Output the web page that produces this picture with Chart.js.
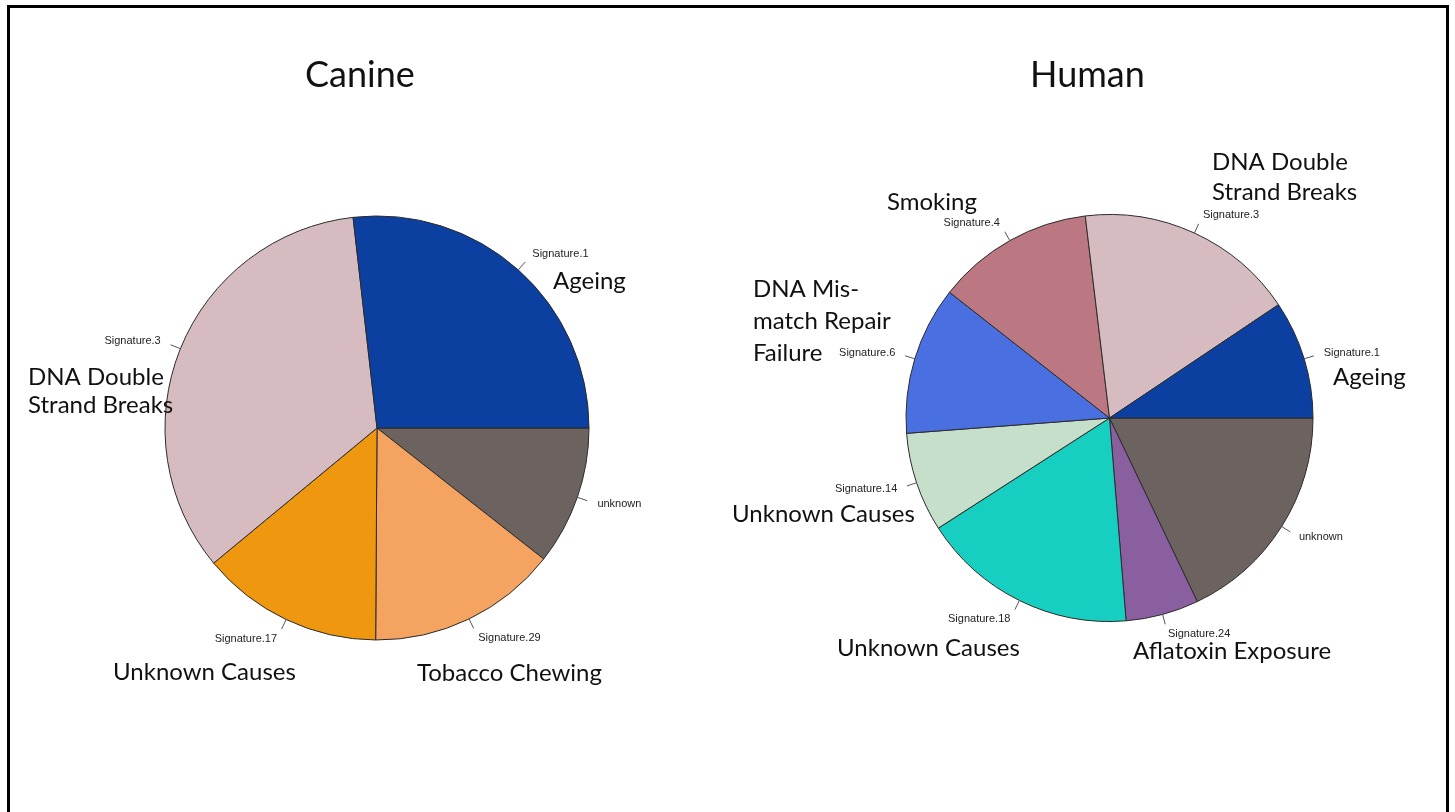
<!DOCTYPE html>
<html>
<head>
<meta charset="utf-8">
<script src="https://cdn.jsdelivr.net/npm/chart.js@4.4.1/dist/chart.umd.min.js"></script>
<style>
  html, body { margin: 0; padding: 0; background: #ffffff; }
  body { width: 1455px; height: 812px; position: relative; overflow: hidden; }
  #frame {
    position: absolute; left: 7px; top: 5px; width: 1436px; height: 900px;
    border-left: 3px solid #000; border-top: 3px solid #000; border-right: 3px solid #000;
  }
  canvas { position: absolute; left: 0; top: 0; }
</style>
</head>
<body>
<div id="frame"></div>
<canvas id="canine" width="1455" height="812"></canvas>
<canvas id="human" width="1455" height="812"></canvas>
<script>
// ---- Canine mutational signatures (share of mutations, %) ----
const canineSignatures = ['Signature.1', 'Signature.3', 'Signature.17', 'Signature.29', 'unknown'];
const canineShares     = [26.8, 34.2, 13.9, 14.5, 10.6];
const canineCauses     = ['Ageing', 'DNA Double\nStrand Breaks', 'Unknown Causes', 'Tobacco Chewing', ''];

// ---- Human mutational signatures (share of mutations, %) ----
const humanSignatures = ['Signature.1', 'Signature.3', 'Signature.4', 'Signature.6',
                         'Signature.14', 'Signature.18', 'Signature.24', 'unknown'];
const humanShares     = [9.4, 17.5, 12.5, 11.8, 7.9, 17.2, 5.8, 17.9];
const humanCauses     = ['Ageing', 'DNA Double\nStrand Breaks', 'Smoking', 'DNA Mis-\nmatch Repair\nFailure',
                         'Unknown Causes', 'Unknown Causes', 'Aflatoxin Exposure', ''];

// ---- styling ----
const canineColors = ['#0b3fa0', '#d6bcc0', '#ef970f', '#f4a460', '#6c6361'];
const humanColors  = ['#0b3fa0', '#d6bcc0', '#bb7782', '#4a6fe1', '#c6dfca', '#17cfc0', '#8a5fa0', '#6c6361'];

// where each cause caption sits relative to the pie centre: left edge, first baseline, line step
const canineCauseOffsets = [
  { dx: 176, dy: -139, step: 28 },
  { dx: -349, dy: -43, step: 28 },
  { dx: -264, dy: 252, step: 28 },
  { dx: 40, dy: 253, step: 28 },
  null
];
const humanCauseOffsets = [
  { dx: 223.5, dy: -33, step: 30 },
  { dx: 102.5, dy: -248, step: 30 },
  { dx: -222.5, dy: -208, step: 30 },
  { dx: -356.5, dy: -121, step: 32 },
  { dx: -377.5, dy: 104, step: 30 },
  { dx: -272.5, dy: 238, step: 30 },
  { dx: 23.5, dy: 241, step: 30 },
  null
];

// R-style pie: slices run counter-clockwise from 3 o'clock, so feed Chart.js
// (clockwise drawing) the reversed order starting at 90 degrees.
function rev(a) { return a.slice().reverse(); }

const pieAnnotations = {
  id: 'pieAnnotations',
  afterDatasetsDraw(chart, args, opts) {
    const ctx = chart.ctx;
    const meta = chart.getDatasetMeta(0);
    const arcs = meta.data;
    if (!arcs.length) return;
    const cx = arcs[0].x, cy = arcs[0].y, r = arcs[0].outerRadius;
    const labels = chart.data.labels;
    ctx.save();
    // signature labels with short tick marks
    arcs.forEach((arc, i) => {
      const mid = (arc.startAngle + arc.endAngle) / 2;
      const c = Math.cos(mid), s = Math.sin(mid);
      ctx.strokeStyle = '#555';
      ctx.lineWidth = 1;
      ctx.beginPath();
      ctx.moveTo(cx + r * c, cy + r * s);
      ctx.lineTo(cx + 1.05 * r * c, cy + 1.05 * r * s);
      ctx.stroke();
      ctx.fillStyle = '#222';
      ctx.font = '11px "Liberation Sans", Arial, sans-serif';
      ctx.textAlign = c >= 0 ? 'left' : 'right';
      ctx.textBaseline = 'middle';
      ctx.fillText(labels[i], cx + 1.1 * r * c, cy + 1.1 * r * s);
    });
    // cause captions
    ctx.fillStyle = '#111';
    ctx.font = '24px Lato, "Open Sans", sans-serif';
    ctx.textAlign = 'left';
    ctx.textBaseline = 'alphabetic';
    opts.causes.forEach((txt, i) => {
      const off = opts.offsets[i];
      if (!txt || !off) return;
      txt.split('\n').forEach((line, k) => {
        ctx.fillText(line, cx + off.dx, cy + off.dy + k * off.step);
      });
    });
    // panel title
    ctx.font = '36px Lato, "Open Sans", sans-serif';
    ctx.fillStyle = '#111';
    ctx.fillText(opts.title, cx + opts.titleDx, cy + opts.titleDy);
    ctx.restore();
  }
};

function makePie(id, labels, values, colors, causes, offsets, center, radius, title, titleDx, titleDy) {
  const W = 1455, H = 812, half = 240;
  return new Chart(document.getElementById(id), {
    type: 'pie',
    data: {
      labels: rev(labels),
      datasets: [{
        data: rev(values),
        backgroundColor: rev(colors),
        borderColor: '#2b2b2b',
        borderWidth: 1,
        radius: radius
      }]
    },
    options: {
      responsive: false,
      animation: false,
      devicePixelRatio: 1,
      rotation: 90,
      layout: {
        padding: {
          left: center.x - half,
          right: W - center.x - half,
          top: center.y - half,
          bottom: H - center.y - half
        }
      },
      plugins: {
        legend: { display: false },
        tooltip: { enabled: false },
        pieAnnotations: {
          causes: rev(causes),
          offsets: rev(offsets),
          title: title,
          titleDx: titleDx,
          titleDy: titleDy
        }
      }
    },
    plugins: [pieAnnotations]
  });
}

makePie('canine', canineSignatures, canineShares, canineColors, canineCauses, canineCauseOffsets,
        { x: 377, y: 428 }, 212, 'Canine', -72, -341);
makePie('human', humanSignatures, humanShares, humanColors, humanCauses, humanCauseOffsets,
        { x: 1109.5, y: 418 }, 203.5, 'Human', -79.5, -331);
</script>
</body>
</html>
